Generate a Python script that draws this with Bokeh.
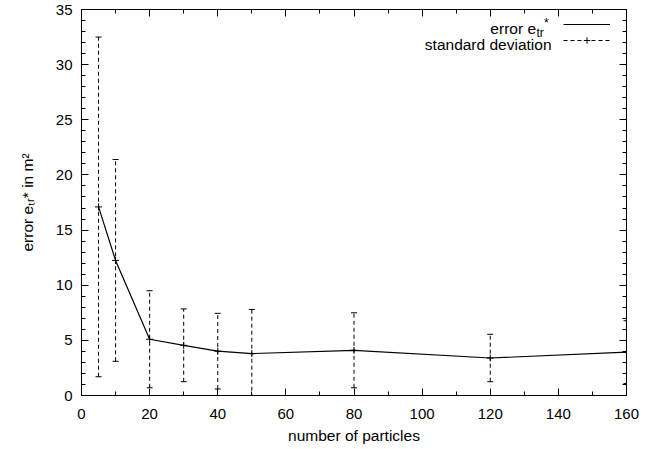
from bokeh.plotting import figure
from bokeh.models import (Range1d, LinearAxis, SingleIntervalTicker, Label,
                          Legend, LegendItem, CustomJSTickFormatter)
from bokeh.embed import file_html
from bokeh.resources import INLINE

# ---- data ----
particles = [5, 10, 20, 30, 40, 50, 80, 120, 160]
error_mean = [17.1, 12.25, 5.1, 4.55, 4.02, 3.8, 4.1, 3.4, 3.93]
error_std = [15.4, 9.15, 4.4, 3.3, 3.43, 4.0, 3.4, 2.15, 2.85]
x_label = "number of particles"
y_label = "error e\u209c\u1d63* in m\u00b2"

std_low = [m - s for m, s in zip(error_mean, error_std)]
std_high = [m + s for m, s in zip(error_mean, error_std)]

FONT = "Liberation Sans"

p = figure(width=660, height=449,
           x_range=Range1d(0, 160), y_range=Range1d(0, 35),
           output_backend="svg", toolbar_location=None,
           min_border_left=81, min_border_right=34,
           min_border_top=9, min_border_bottom=54)
p.grid.visible = False
p.outline_line_color = "black"
p.background_fill_color = "white"
p.border_fill_color = "white"

xt = SingleIntervalTicker(interval=20, num_minor_ticks=2)
yt = SingleIntervalTicker(interval=5, num_minor_ticks=5)


def style(ax):
    ax.axis_line_color = "black"
    ax.axis_line_width = 1
    ax.major_tick_in = 7
    ax.major_tick_out = 0
    ax.minor_tick_in = 4
    ax.minor_tick_out = 0
    ax.major_tick_line_color = "black"
    ax.minor_tick_line_color = "black"
    ax.major_label_text_font = FONT
    ax.major_label_text_font_size = "15px"
    ax.major_label_text_color = "black"


p.xaxis.ticker = xt
p.yaxis.ticker = yt
for ax in p.xaxis + p.yaxis:
    style(ax)
p.xaxis.major_label_standoff = 13
p.yaxis.major_label_standoff = 9
for ax, txt in ((p.xaxis[0], x_label), (p.yaxis[0], y_label)):
    ax.axis_label = txt
    ax.axis_label_text_font = FONT
    ax.axis_label_text_font_size = "15.5px"
    ax.axis_label_text_font_style = "normal"
    ax.axis_label_text_color = "black"
p.xaxis.axis_label_standoff = 5
p.yaxis.axis_label_standoff = 17

blank = CustomJSTickFormatter(code="return ''")
top_ax = LinearAxis(ticker=xt, formatter=blank)
right_ax = LinearAxis(ticker=yt, formatter=blank)
for ax in (top_ax, right_ax):
    style(ax)
    ax.major_label_standoff = 0
p.add_layout(top_ax, "above")
p.add_layout(right_ax, "right")

# ---- glyphs ----
seg_r = p.segment(x0=particles, y0=std_low, x1=particles, y1=std_high,
                  line_color="black", line_width=1, line_dash="4 3")
p.scatter(particles, std_low, marker="dash", size=6, line_color="black", line_width=1)
p.scatter(particles, std_high, marker="dash", size=6, line_color="black", line_width=1)
line_r = p.line(particles, error_mean, line_color="black", line_width=1.2)
cross_r = p.scatter(particles, error_mean, marker="cross", size=7,
                    line_color="black", line_width=1)

legend = Legend(items=[LegendItem(label=" ", renderers=[line_r]),
                       LegendItem(label=" ", renderers=[seg_r, cross_r])],
                location="top_right", margin=7, padding=0, spacing=0,
                glyph_height=16, glyph_width=47, label_standoff=0,
                label_width=9, label_height=16, label_text_font_size="1px",
                background_fill_alpha=0, border_line_alpha=0)
p.add_layout(legend)


def lab(text, x, y, size="15.5px", align="left"):
    p.add_layout(Label(text=text, x=x, y=y, x_units="screen", y_units="screen",
                       text_font=FONT, text_font_size=size, text_color="black",
                       text_align=align, text_baseline="alphabetic"))


# legend texts (frame-relative screen coordinates)
lab("error e", 454.5, 367.5, align="right")
lab("tr", 455.0, 362.5, size="12px")
lab("*", 462.4, 372.5, size="12px")
lab("standard deviation", 470.0, 351.0, align="right")

open("out.html", "w").write(file_html(p, INLINE))
